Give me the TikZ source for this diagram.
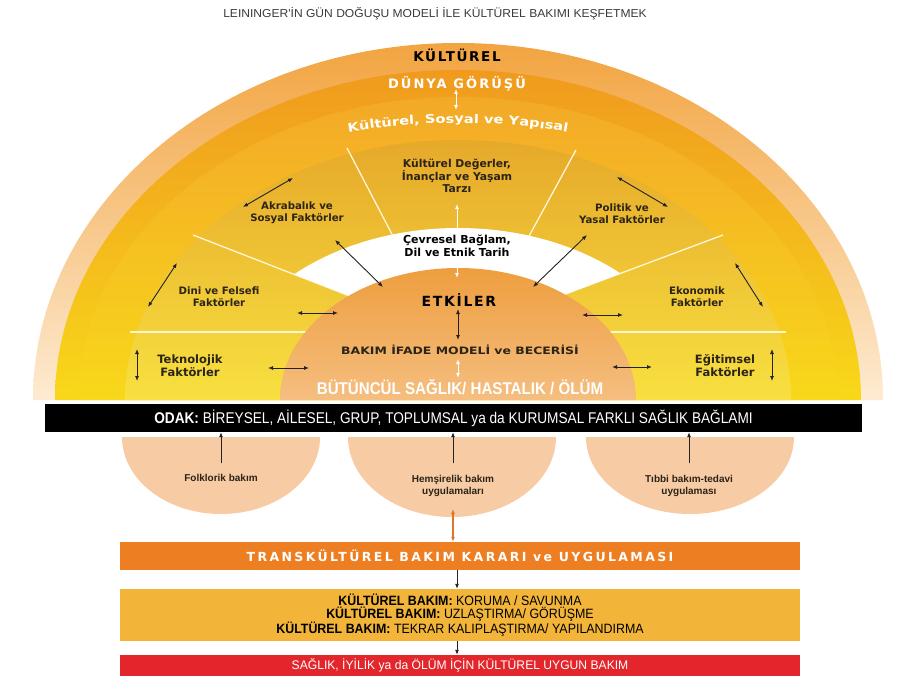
\documentclass[tikz,border=0pt]{standalone}
\usepackage{fontspec}
\setmainfont{Liberation Sans}
\newfontfamily\dvb{DejaVu Sans}
\newfontfamily\dvwide[FakeStretch=1.22]{DejaVu Sans}
\newfontfamily\spcA[LetterSpace=12]{DejaVu Sans}
\newfontfamily\spcD[LetterSpace=16]{DejaVu Sans}
\newfontfamily\spcC[LetterSpace=19]{DejaVu Sans}
\newfontfamily\ltitle[FakeStretch=1.05]{Liberation Sans}
\newfontfamily\lodak[FakeStretch=0.88]{Liberation Sans}
\newfontfamily\lkb[FakeStretch=0.92]{Liberation Sans}
\newfontfamily\lred[FakeStretch=0.97]{Liberation Sans}
\newfontfamily\lcondB[FakeStretch=0.89]{Liberation Sans}
\usetikzlibrary{arrows.meta,decorations.text}

\definecolor{ringA}{HTML}{F2A440}
\definecolor{ringAb}{HTML}{FDEBD2}
\definecolor{mainT}{HTML}{F09A1E}
\definecolor{mainB}{HTML}{F8D81A}
\definecolor{ringC}{HTML}{F3A928}
\definecolor{secT}{HTML}{E6A92A}
\definecolor{secB}{HTML}{F8E040}
\definecolor{domeT}{HTML}{EE9E3E}
\definecolor{domeB}{HTML}{F5BE80}
\definecolor{labtxt}{HTML}{2B2418}
\definecolor{bowlc}{HTML}{F7CBA3}
\definecolor{transc}{HTML}{EE7E22}
\definecolor{kboxc}{HTML}{F2B53A}
\definecolor{redc}{HTML}{E3262B}
\definecolor{arr}{HTML}{222222}
\definecolor{titlec}{HTML}{3A3A3A}
\definecolor{orarr}{HTML}{E0752A}
\definecolor{sepc}{HTML}{FFF6D8}

\begin{document}
\begin{tikzpicture}[x=1pt,y=-1pt,
  lab/.style={font=\fontsize{10.2}{12.2}\selectfont\dvb\bfseries, text=labtxt, align=center, inner sep=0pt},
  dbl/.style={{Latex[length=5pt,width=4pt]}-{Latex[length=5pt,width=4pt]}, line width=0.9pt, draw=arr},
  wdbl/.style={dbl, draw=white},
  uparr/.style={-{Latex[length=5pt,width=4pt]}, line width=0.9pt, draw=arr},
  sepline/.style={draw=sepc, line width=1.3pt},
  boxn/.style={inner sep=0pt, minimum width=680pt, align=center},
  bowltxt/.style={font=\fontsize{10}{12.5}\selectfont\bfseries, text=labtxt, align=center}
]
\useasboundingbox (0,0) rectangle (902,679);
\fill[white] (0,0) rectangle (902,679);

% title
\node[font=\fontsize{11.5}{13}\selectfont\ltitle, text=titlec] (title) at (435,14) {LEININGER'İN GÜN DOĞUŞU MODELİ İLE KÜLTÜREL BAKIMI KEŞFETMEK};

% rings
\shade[top color=ringA, bottom color=ringAb] (33,400) arc[start angle=180,end angle=360,x radius=425,y radius=357] -- cycle;
\shade[top color=mainT, bottom color=mainB] (55,400) arc[start angle=180,end angle=360,x radius=403,y radius=330] -- cycle;
\shade[top color=ringC, bottom color=mainB] (78,400) arc[start angle=180,end angle=360,x radius=380,y radius=303] -- cycle;
\shade[top color=secT, bottom color=secB] (125,400) arc[start angle=180,end angle=360,x radius=333,y radius=260] -- cycle;

% sector separators
\draw[sepline] (347,148) -- (395,240);
\draw[sepline] (576,150) -- (528,238);
\draw[sepline] (193,235) -- (365,302);
\draw[sepline] (723,235) -- (552,299);
\draw[sepline] (130,332) -- (330,332);
\draw[sepline] (786,332) -- (590,332);

% white band
\begin{scope}
\clip (360,300) -- (100,199) -- (100,100) -- (816,100) -- (816,200) -- (557,297.5) -- cycle;
\fill[white] (218,400) arc[start angle=180,end angle=360,x radius=240,y radius=172] -- cycle;
\end{scope}

% dome
\shade[top color=domeT, bottom color=domeB] (280,400) arc[start angle=180,end angle=360,x radius=178,y radius=132] -- cycle;

% arrows in the sunrise (drawn below the texts)
\coordinate (dA) at (456,89);
\coordinate (dB) at (456,110);
\draw[wdbl] (dA) -- (dB);
\coordinate (a1) at (243,207); \coordinate (a2) at (293,178);
\draw[dbl] (a1) -- (a2);
\coordinate (p1) at (617,177); \coordinate (p2) at (668,207);
\draw[dbl] (p1) -- (p2);
\coordinate (d1) at (177,263); \coordinate (d2) at (148,307);
\draw[dbl] (d1) -- (d2);
\coordinate (e1) at (735,263); \coordinate (e2) at (763,307);
\draw[dbl] (e1) -- (e2);
\coordinate (t1) at (137,349); \coordinate (t2) at (137,381);
\draw[dbl] (t1) -- (t2);
\coordinate (g1) at (772,349); \coordinate (g2) at (772,381);
\draw[dbl] (g1) -- (g2);
\coordinate (l1) at (297,313); \coordinate (l2) at (338,313);
\draw[dbl] (l1) -- (l2);
\coordinate (l3) at (268,368); \coordinate (l4) at (309,368);
\draw[dbl] (l3) -- (l4);
\coordinate (r1) at (582,315); \coordinate (r2) at (623,315);
\draw[dbl] (r1) -- (r2);
\coordinate (r3) at (612,367); \coordinate (r4) at (652,367);
\draw[dbl] (r3) -- (r4);
\coordinate (x1) at (335,240); \coordinate (x2) at (383,287);
\draw[dbl] (x1) -- (x2);
\coordinate (y1) at (587,235); \coordinate (y2) at (533,287);
\draw[dbl] (y1) -- (y2);
\coordinate (k1) at (457,204); \coordinate (k2) at (457,278);
\draw[wdbl] (k1) -- (k2);
\coordinate (m1) at (458,309); \coordinate (m2) at (458,340);
\draw[dbl] (m1) -- (m2);
\coordinate (n1) at (458,359); \coordinate (n2) at (458,378);
\draw[wdbl] (n1) -- (n2);

% top texts
\node[font=\fontsize{13.5}{15}\selectfont\spcA\bfseries, text=black] (kult) at (457,55) {KÜLTÜREL};
\node[font=\fontsize{13}{14}\selectfont\spcD\bfseries, text=white] (dunya) at (457,84) {DÜNYA GÖRÜŞÜ};
\path[decorate, decoration={text along path, text align=center,
  text={|\fontsize{12}{13}\selectfont\dvwide\bfseries\color{white}|Kültürel, Sosyal ve Yapısal}}]
  (30,401) arc[start angle=180,end angle=360,x radius=428,y radius=278];

% sector labels
\node[lab, font=\fontsize{10.8}{12.8}\selectfont\dvb\bfseries] (kd) at (457,176) {Kültürel Değerler,\\İnançlar ve Yaşam\\Tarzı};
\node[lab] (akr) at (297,213) {Akrabalık ve\\Sosyal Faktörler};
\node[lab] (pol) at (622,214) {Politik ve\\Yasal Faktörler};
\node[lab] (dini) at (219,297) {Dini ve Felsefi\\Faktörler};
\node[lab] (eko) at (697,297) {Ekonomik\\Faktörler};
\node[lab, font=\fontsize{11.5}{13}\selectfont\dvb\bfseries] (tek) at (190,366) {Teknolojik\\Faktörler};
\node[lab, font=\fontsize{11.5}{13}\selectfont\dvb\bfseries] (egi) at (725,366) {Eğitimsel\\Faktörler};
\node[lab, font=\fontsize{11}{12.5}\selectfont\dvb\bfseries, text=black] (cev) at (457,246) {Çevresel Bağlam,\\Dil ve Etnik Tarih};

% dome texts
\node[font=\fontsize{14}{16}\selectfont\spcA\bfseries, text=black] (etk) at (459,300) {ETKİLER};
\node[font=\fontsize{10.2}{12}\selectfont\dvwide\bfseries, text=labtxt] (bakim) at (460,350) {BAKIM İFADE MODELİ ve BECERİSİ};
\node[font=\fontsize{17}{18}\selectfont\lcondB\bfseries, text=white] (butun) at (460,387) {BÜTÜNCÜL SAĞLIK/ HASTALIK / ÖLÜM};

% focus bar
\node[fill=black, inner sep=0pt, minimum width=817pt, minimum height=28pt,
  font=\fontsize{15.5}{16}\selectfont\lodak, text=white] (odak) at (453.5,418)
  {\textbf{ODAK:} BİREYSEL, AİLESEL, GRUP, TOPLUMSAL ya da KURUMSAL FARKLI SAĞLIK BAĞLAMI};

% bowls
\fill[bowlc] (122,437) arc[start angle=180,end angle=0,x radius=99,y radius=77] -- cycle;
\fill[bowlc] (348,437) arc[start angle=180,end angle=0,x radius=104,y radius=80] -- cycle;
\fill[bowlc] (586,437) arc[start angle=180,end angle=0,x radius=104,y radius=77] -- cycle;
\node[bowltxt] (folk) at (221,478) {Folklorik bakım};
\node[bowltxt] (hem) at (453,486) {Hemşirelik bakım\\uygulamaları};
\node[bowltxt] (tib) at (689,486) {Tıbbi bakım-tedavi\\uygulaması};
\coordinate (f0) at (221,463);
\coordinate (h0) at (453,463);
\coordinate (b0) at (689,463);
\draw[uparr] (f0) -- (f0 |- odak.south);
\draw[uparr] (h0) -- (h0 |- odak.south);
\draw[uparr] (b0) -- (b0 |- odak.south);

% lower boxes
\node[boxn, fill=transc, minimum height=28pt, font=\fontsize{12.5}{14}\selectfont\spcC\bfseries, text=white] (trans) at (460,556) {TRANSKÜLTÜREL BAKIM KARARI ve UYGULAMASI};
\node[boxn, fill=kboxc, minimum height=52pt, font=\fontsize{13.5}{13.2}\selectfont\lkb, text=black] (kb) at (460,615)
  {\textbf{KÜLTÜREL BAKIM:} KORUMA / SAVUNMA\\\textbf{KÜLTÜREL BAKIM:} UZLAŞTIRMA/ GÖRÜŞME\\\textbf{KÜLTÜREL BAKIM:} TEKRAR KALIPLAŞTIRMA/ YAPILANDIRMA};
\node[boxn, fill=redc, minimum height=21pt, font=\fontsize{12.5}{13}\selectfont\lred, text=white] (red) at (460,665.5) {SAĞLIK, İYİLİK ya da ÖLÜM İÇİN KÜLTÜREL UYGUN BAKIM};

\coordinate (o1) at (453,509);
\draw[dbl, draw=orarr, line width=1.1pt] (o1) -- (o1 |- trans.north);
\coordinate (q1) at (457,570);
\draw[-{Latex[length=5pt,width=4pt]}, line width=0.9pt, draw=arr] (trans.south -| q1) -- (kb.north -| q1);
\draw[-{Latex[length=5pt,width=4pt]}, line width=0.9pt, draw=arr] (kb.south -| q1) -- (red.north -| q1);
\end{tikzpicture}
\end{document}
